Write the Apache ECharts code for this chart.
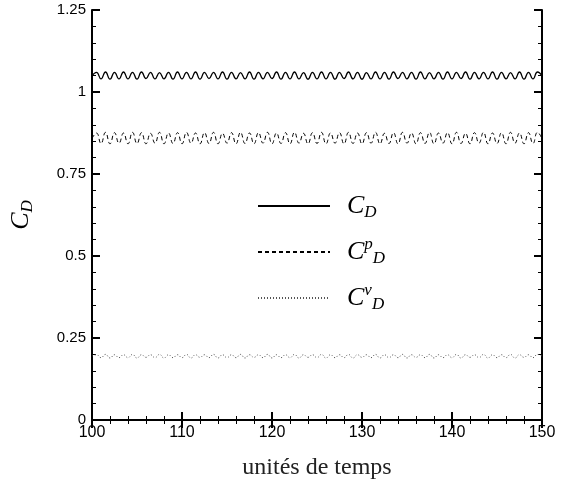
<!DOCTYPE html>
<html>
<head>
<meta charset="utf-8">
<script src="https://cdn.jsdelivr.net/npm/echarts@6/dist/echarts.min.js"></script>
<style>
  html, body { margin: 0; padding: 0; background: #fff; }
  #chart { width: 561px; height: 491px; }
</style>
</head>
<body>
<div id="chart"></div>
<script>
// time sampling (unités de temps)
const tStart = 100;
const tStep = 0.5;
const xTicks = [100, 110, 120, 130, 140, 150];
const yTicks = [0, 0.25, 0.5, 0.75, 1, 1.25];
const seriesNames = ['CD', 'CDp', 'CDnu'];

// C_D total
const cdTotal = [
  1.050, 1.060, 1.040, 1.061, 1.039, 1.060, 1.040, 1.061, 1.040, 1.060,
  1.039, 1.061, 1.041, 1.060, 1.040, 1.059, 1.040, 1.060, 1.039, 1.061,
  1.040, 1.060, 1.040, 1.061, 1.039, 1.060, 1.041, 1.060, 1.040, 1.061,
  1.039, 1.060, 1.040, 1.059, 1.040, 1.061, 1.039, 1.060, 1.040, 1.060,
  1.041, 1.061, 1.039, 1.060, 1.040, 1.061, 1.040, 1.059, 1.039, 1.060,
  1.040, 1.061, 1.040, 1.060, 1.039, 1.060, 1.041, 1.061, 1.040, 1.060,
  1.039, 1.059, 1.040, 1.061, 1.040, 1.060, 1.039, 1.061, 1.041, 1.060,
  1.040, 1.060, 1.039, 1.061, 1.040, 1.059, 1.040, 1.060, 1.039, 1.061,
  1.040, 1.060, 1.041, 1.061, 1.039, 1.060, 1.040, 1.060, 1.040, 1.061,
  1.039, 1.060, 1.040, 1.059, 1.040, 1.061, 1.039, 1.060, 1.040, 1.061,
  1.050
];
// C_D pression
const cdPress = [
  0.858, 0.875, 0.843, 0.877, 0.842, 0.876, 0.844, 0.875, 0.842, 0.877,
  0.843, 0.876, 0.842, 0.874, 0.844, 0.877, 0.842, 0.875, 0.843, 0.876,
  0.842, 0.877, 0.844, 0.875, 0.842, 0.876, 0.843, 0.877, 0.842, 0.874,
  0.844, 0.876, 0.842, 0.877, 0.843, 0.875, 0.842, 0.876, 0.844, 0.877,
  0.842, 0.875, 0.843, 0.876, 0.842, 0.877, 0.844, 0.874, 0.842, 0.876,
  0.843, 0.877, 0.842, 0.875, 0.844, 0.876, 0.842, 0.877, 0.843, 0.875,
  0.842, 0.876, 0.844, 0.877, 0.842, 0.874, 0.843, 0.876, 0.842, 0.877,
  0.844, 0.875, 0.842, 0.876, 0.843, 0.877, 0.842, 0.875, 0.844, 0.876,
  0.842, 0.877, 0.843, 0.874, 0.842, 0.876, 0.844, 0.877, 0.842, 0.875,
  0.843, 0.876, 0.842, 0.877, 0.844, 0.875, 0.842, 0.876, 0.843, 0.877,
  0.858
];
// C_D visqueux
const cdVisc = [
  0.195, 0.199, 0.190, 0.200, 0.189, 0.199, 0.190, 0.199, 0.190, 0.200,
  0.189, 0.199, 0.191, 0.199, 0.190, 0.200, 0.189, 0.199, 0.190, 0.199,
  0.190, 0.200, 0.189, 0.199, 0.191, 0.199, 0.190, 0.200, 0.189, 0.199,
  0.190, 0.199, 0.190, 0.200, 0.189, 0.199, 0.191, 0.199, 0.190, 0.200,
  0.189, 0.199, 0.190, 0.199, 0.190, 0.200, 0.189, 0.199, 0.191, 0.199,
  0.190, 0.200, 0.189, 0.199, 0.190, 0.199, 0.190, 0.200, 0.189, 0.199,
  0.191, 0.199, 0.190, 0.200, 0.189, 0.199, 0.190, 0.199, 0.190, 0.200,
  0.189, 0.199, 0.191, 0.199, 0.190, 0.200, 0.189, 0.199, 0.190, 0.199,
  0.190, 0.200, 0.189, 0.199, 0.191, 0.199, 0.190, 0.200, 0.189, 0.199,
  0.190, 0.199, 0.190, 0.200, 0.189, 0.199, 0.191, 0.199, 0.190, 0.200,
  0.195
];

function pairs(vals) {
  return vals.map((v, i) => [tStart + i * tStep, v]);
}

const serif = "'Liberation Serif', 'DejaVu Serif', serif";
const sans = "'Liberation Sans', Arial, sans-serif";
const richMath = {
  c: { fontFamily: serif, fontStyle: 'italic', fontSize: 26, color: '#000', lineHeight: 34 },
  sub: { fontFamily: serif, fontStyle: 'italic', fontSize: 17, color: '#000', padding: [14, 0, 0, 0] },
  sup: { fontFamily: serif, fontStyle: 'italic', fontSize: 17, color: '#000', padding: [0, 0, 14, 0] }
};

const myChart = echarts.init(document.getElementById('chart'));

const xBase = {
  type: 'value', min: xTicks[0], max: xTicks[xTicks.length - 1], interval: 10,
  axisLine: { show: true, lineStyle: { color: '#000', width: 2 } },
  axisTick: { show: true, inside: true, length: 8, lineStyle: { color: '#000', width: 2 } },
  minorTick: { show: true, splitNumber: 5, length: 4, lineStyle: { color: '#000', width: 1 } },
  splitLine: { show: false }
};
const yBase = {
  type: 'value', min: yTicks[0], max: yTicks[yTicks.length - 1], interval: 0.25,
  axisLine: { show: true, lineStyle: { color: '#000', width: 2 } },
  axisTick: { show: true, inside: true, length: 8, lineStyle: { color: '#000', width: 2 } },
  minorTick: { show: true, splitNumber: 5, length: 4, lineStyle: { color: '#000', width: 1 } },
  splitLine: { show: false }
};

const option = {
  backgroundColor: '#fff',
  animation: false,
  grid: { left: 91, right: 19, top: 10, bottom: 71 },
  legend: {
    orient: 'vertical',
    left: 252,
    top: 188,
    itemWidth: 72,
    itemHeight: 12,
    itemGap: 15,
    data: seriesNames,
    itemStyle: { opacity: 0 },
    textStyle: { rich: richMath, padding: [0, 0, 0, 12] },
    formatter: function (name) {
      if (name === 'CD') return '{c|C}{sub|D}';
      if (name === 'CDp') return '{c|C}{sup|p}{sub|D}';
      return '{c|C}{sup|ν}{sub|D}';
    }
  },
  xAxis: [
    Object.assign({}, xBase, {
      position: 'bottom',
      name: 'unités de temps',
      nameLocation: 'middle',
      nameGap: 36,
      nameTextStyle: { fontFamily: serif, fontSize: 24, color: '#222' },
      axisLabel: { show: true, color: '#000', fontFamily: sans, fontSize: 16, margin: 5 }
    }),
    Object.assign({}, xBase, { position: 'top', axisLabel: { show: false } })
  ],
  yAxis: [
    Object.assign({}, yBase, {
      position: 'left',
      name: '{c|C}{sub|D}',
      nameLocation: 'middle',
      nameRotate: 90,
      nameGap: 54,
      nameTextStyle: { rich: richMath },
      axisLabel: { show: true, color: '#000', fontFamily: sans, fontSize: 15, margin: 6 }
    }),
    Object.assign({}, yBase, { position: 'right', axisLabel: { show: false } })
  ],
  series: [
    {
      name: 'CD', type: 'line', data: pairs(cdTotal), smooth: 0.5,
      symbol: 'none', color: '#000',
      lineStyle: { color: '#000', width: 1.3, type: 'solid' }
    },
    {
      name: 'CDp', type: 'line', data: pairs(cdPress), smooth: 0.5,
      symbol: 'none', color: '#000',
      lineStyle: { color: '#000', width: 1, type: [4, 3] }
    },
    {
      name: 'CDnu', type: 'line', data: pairs(cdVisc), smooth: 0.5,
      symbol: 'none', color: '#555',
      lineStyle: { color: '#555', width: 1, type: [1, 2] }
    }
  ]
};

myChart.setOption(option);
window.addEventListener('resize', function () {
  myChart.resize();
});
</script>
</body>
</html>
